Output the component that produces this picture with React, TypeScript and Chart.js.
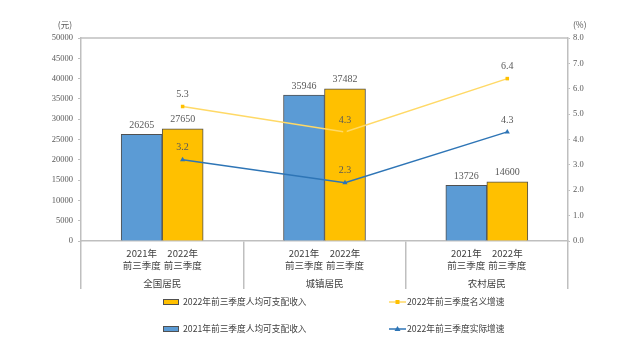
import React, { useEffect, useRef } from "react";
import { Chart, registerables } from "chart.js";

Chart.register(...registerables);

// ---- data ----
const categories = ["全国居民", "城镇居民", "农村居民"];
const yearLabels = ["2021年", "2022年"];
const periodLabel = "前三季度";
const income2021 = [26265, 35946, 13726];
const income2022 = [27650, 37482, 14600];
const nominalGrowth = [5.3, 4.3, 6.4];
const realGrowth = [3.2, 2.3, 4.3];
const seriesNames = [
  "2021年前三季度人均可支配收入",
  "2022年前三季度人均可支配收入",
  "2022年前三季度名义增速",
  "2022年前三季度实际增速",
];
const leftAxisTitle = "(元)";
const rightAxisTitle = "(%)";
const leftMax = 50000;
const leftStep = 5000;
const rightMax = 8;
const rightStep = 1;

// ---- style ----
const BLUE = "#5B9BD5";
const GOLD = "#FFC000";
const LINE_GOLD = "#FFD966";
const LINE_BLUE = "#2E75B6";
const BAR_BORDER = "#505050";
const AXIS = "#bfbfbf";
const TEXT = "#404040";
const TICK_TEXT = "#595959";
const CJK = "'Noto Sans CJK SC', 'Noto Sans', sans-serif";
const NUM = "'Liberation Serif', 'DejaVu Serif', serif";
const BAR_PX = 41;
const LINE_SHIFT = 0.126; // line points sit over the centre of the 2022 bar

const labelsPlugin = {
  id: "customLabels",
  afterDatasetsDraw(chart: any) {
    const ctx = chart.ctx;
    ctx.save();
    ctx.textAlign = "center";
    ctx.textBaseline = "middle";
    chart.data.datasets.forEach((ds: any, di: number) => {
      const meta = chart.getDatasetMeta(di);
      meta.data.forEach((el: any, i: number) => {
        ctx.font = `10px ${NUM}`;
        ctx.fillStyle = TICK_TEXT;
        if (ds.type === "bar") {
          ctx.fillText(String(ds.data[i]), el.x, el.y - 9);
        } else {
          ctx.fillText(Number(ds.data[i].y).toFixed(1), el.x, el.y - 12);
        }
      });
    });
    ctx.restore();
  },
  afterDraw(chart: any) {
    const ctx = chart.ctx;
    const area = chart.chartArea;
    ctx.save();
    // top border of plot box
    ctx.strokeStyle = AXIS;
    ctx.lineWidth = 1.5;
    ctx.beginPath();
    ctx.moveTo(area.left, area.top);
    ctx.lineTo(area.right, area.top);
    ctx.stroke();

    // axis titles
    ctx.fillStyle = TICK_TEXT;
    ctx.textBaseline = "middle";
    ctx.font = `8.5px ${CJK}`;
    ctx.textAlign = "right";
    ctx.fillText(leftAxisTitle, area.left - 9, area.top - 13);
    ctx.textAlign = "left";
    ctx.fillText(rightAxisTitle, area.right + 5, area.top - 13);

    // x sub labels
    const barMetas = [chart.getDatasetMeta(2), chart.getDatasetMeta(3)];
    const xScale = chart.scales.x;
    ctx.fillStyle = TEXT;
    ctx.textAlign = "center";
    ctx.font = `9.5px ${CJK}`;
    categories.forEach((c: string, i: number) => {
      barMetas.forEach((m: any, k: number) => {
        const el = m.data[i];
        ctx.fillText(yearLabels[k], el.x, area.bottom + 12);
        ctx.fillText(periodLabel, el.x, area.bottom + 24.5);
      });
      ctx.fillText(c, xScale.getPixelForValue(i), area.bottom + 42);
    });

    // legend
    const rows = [area.bottom + 61, area.bottom + 88];
    const col1 = 163;
    const col2 = 389;
    ctx.font = `8.7px ${CJK}`;
    ctx.textAlign = "left";
    const barItems = [
      { name: seriesNames[1], color: GOLD },
      { name: seriesNames[0], color: BLUE },
    ];
    barItems.forEach((it, r) => {
      const y = rows[r];
      ctx.fillStyle = it.color;
      ctx.fillRect(col1, y - 2.5, 15, 5);
      ctx.strokeStyle = BAR_BORDER;
      ctx.lineWidth = 1;
      ctx.strokeRect(col1 + 0.5, y - 2.5, 15, 5);
      ctx.fillStyle = TEXT;
      ctx.fillText(it.name, col1 + 20, y);
    });
    const lineItems = [
      { name: seriesNames[2], color: LINE_GOLD, shape: "rect" },
      { name: seriesNames[3], color: LINE_BLUE, shape: "tri" },
    ];
    lineItems.forEach((it, r) => {
      const y = rows[r];
      ctx.strokeStyle = it.color;
      ctx.lineWidth = 1.5;
      ctx.beginPath();
      ctx.moveTo(col2, y);
      ctx.lineTo(col2 + 17, y);
      ctx.stroke();
      ctx.fillStyle = it.shape === "rect" ? GOLD : LINE_BLUE;
      const cx = col2 + 8.5;
      if (it.shape === "rect") {
        ctx.fillRect(cx - 2, y - 2, 4, 4);
      } else {
        ctx.beginPath();
        ctx.moveTo(cx, y - 3);
        ctx.lineTo(cx + 3, y + 2);
        ctx.lineTo(cx - 3, y + 2);
        ctx.closePath();
        ctx.fill();
      }
      ctx.fillStyle = TEXT;
      ctx.fillText(it.name, col2 + 18, y);
    });
    ctx.restore();
  },
};

export default function App() {
  const ref = useRef<HTMLCanvasElement | null>(null);
  useEffect(() => {
    if (!ref.current) return;
    const chart = new Chart(ref.current, {
      type: "bar",
      data: {
        labels: categories,
        datasets: [
          {
            type: "line",
            label: seriesNames[2],
            data: nominalGrowth.map((v, i) => ({ x: i + LINE_SHIFT, y: v })),
            xAxisID: "xl",
            yAxisID: "y2",
            borderColor: LINE_GOLD,
            backgroundColor: GOLD,
            borderWidth: 1.5,
            pointStyle: "rect",
            pointRadius: 2.5,
            pointBorderWidth: 0,
            order: 0,
          } as any,
          {
            type: "line",
            label: seriesNames[3],
            data: realGrowth.map((v, i) => ({ x: i + LINE_SHIFT, y: v })),
            xAxisID: "xl",
            yAxisID: "y2",
            borderColor: LINE_BLUE,
            backgroundColor: LINE_BLUE,
            borderWidth: 1.5,
            pointStyle: "triangle",
            pointRadius: 3,
            pointBorderWidth: 0,
            order: 0,
          } as any,
          {
            type: "bar",
            label: seriesNames[0],
            data: income2021,
            backgroundColor: BLUE,
            borderColor: BAR_BORDER,
            borderWidth: 1,
            barThickness: BAR_PX,
            yAxisID: "y",
            xAxisID: "x",
            order: 1,
          } as any,
          {
            type: "bar",
            label: seriesNames[1],
            data: income2022,
            backgroundColor: GOLD,
            borderColor: BAR_BORDER,
            borderWidth: 1,
            barThickness: BAR_PX,
            yAxisID: "y",
            xAxisID: "x",
            order: 1,
          } as any,
        ],
      },
      options: {
        responsive: false,
        animation: false,
        layout: { padding: { top: 38, left: 0, right: 0, bottom: 0 } },
        plugins: { legend: { display: false }, tooltip: { enabled: false } },
        scales: {
          x: {
            type: "category",
            position: "bottom",
            offset: true,
            grid: {
              offset: true,
              drawOnChartArea: false,
              drawTicks: true,
              tickLength: 48,
              color: AXIS,
              lineWidth: 1.5,
            },
            border: { color: AXIS, width: 1.5 },
            ticks: { display: false },
            afterFit: (s: any) => {
              s.height = 106;
            },
          },
          xl: {
            type: "linear",
            display: false,
            offset: false,
            grid: { offset: false },
            bounds: "ticks",
            min: -0.5,
            max: categories.length - 0.5,
          },
          y: {
            position: "left",
            min: 0,
            max: leftMax,
            ticks: {
              stepSize: leftStep,
              color: TICK_TEXT,
              font: { family: NUM, size: 8.5 },
              padding: 5,
              callback: (v: any) => String(v),
            },
            grid: { drawOnChartArea: false, tickLength: 3, color: AXIS },
            border: { color: AXIS, width: 1.5 },
            afterFit: (s: any) => {
              s.width = 81;
            },
          },
          y2: {
            position: "right",
            min: 0,
            max: rightMax,
            ticks: {
              stepSize: rightStep,
              color: TICK_TEXT,
              font: { family: NUM, size: 8.5 },
              padding: 3,
              callback: (v: any) => Number(v).toFixed(1),
            },
            grid: { drawOnChartArea: false, tickLength: 2, color: AXIS },
            border: { color: AXIS, width: 1.5 },
            afterFit: (s: any) => {
              s.width = 73;
            },
          },
        },
      } as any,
      plugins: [labelsPlugin],
    });
    return () => chart.destroy();
  }, []);
  return (
    <div style={{ position: "fixed", left: 0, top: 0, width: 641, height: 347, background: "#fff" }}>
      <canvas ref={ref} width={641} height={347} style={{ display: "block" }} />
    </div>
  );
}
